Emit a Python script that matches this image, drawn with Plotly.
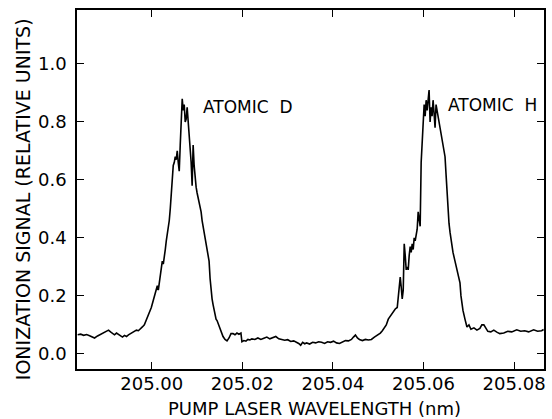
import plotly.graph_objects as go

wavelength_nm = [
    204.98365, 204.98431, 204.98497, 204.98563, 204.98628, 204.98694, 204.98738, 204.98804,
    204.98870, 204.98936, 204.99002, 204.99046, 204.99090, 204.99134, 204.99178, 204.99222,
    204.99266, 204.99310, 204.99354, 204.99398, 204.99442, 204.99486, 204.99530, 204.99574,
    204.99618, 204.99662, 204.99705, 204.99749, 204.99793, 204.99837, 204.99881, 204.99925,
    204.99969, 204.99991, 205.00035, 205.00079, 205.00101, 205.00123, 205.00145, 205.00167,
    205.00189, 205.00211, 205.00233, 205.00255, 205.00277, 205.00299, 205.00321, 205.00343,
    205.00365, 205.00387, 205.00409, 205.00431, 205.00453, 205.00475, 205.00497, 205.00519,
    205.00541, 205.00563, 205.00585, 205.00607, 205.00629, 205.00651, 205.00673, 205.00695,
    205.00717, 205.00739, 205.00760, 205.00782, 205.00804, 205.00826, 205.00848, 205.00870,
    205.00892, 205.00914, 205.00936, 205.00958, 205.00980, 205.01002, 205.01024, 205.01046,
    205.01068, 205.01090, 205.01112, 205.01134, 205.01156, 205.01178, 205.01200, 205.01222,
    205.01244, 205.01266, 205.01288, 205.01310, 205.01332, 205.01354, 205.01376, 205.01420,
    205.01442, 205.01486, 205.01530, 205.01574, 205.01618, 205.01662, 205.01706, 205.01750,
    205.01794, 205.01837, 205.01881, 205.01925, 205.01969, 205.01991, 205.02035, 205.02079,
    205.02123, 205.02167, 205.02211, 205.02277, 205.02343, 205.02409, 205.02475, 205.02541,
    205.02607, 205.02673, 205.02739, 205.02805, 205.02871, 205.02936, 205.03002, 205.03068,
    205.03134, 205.03200, 205.03244, 205.03288, 205.03332, 205.03376, 205.03420, 205.03486,
    205.03552, 205.03618, 205.03684, 205.03750, 205.03816, 205.03882, 205.03948, 205.04014,
    205.04079, 205.04145, 205.04211, 205.04277, 205.04343, 205.04409, 205.04453, 205.04497,
    205.04541, 205.04585, 205.04651, 205.04717, 205.04783, 205.04849, 205.04915, 205.04981,
    205.05047, 205.05091, 205.05134, 205.05178, 205.05222, 205.05266, 205.05288, 205.05332,
    205.05376, 205.05420, 205.05442, 205.05464, 205.05486, 205.05508, 205.05530, 205.05552,
    205.05574, 205.05596, 205.05618, 205.05640, 205.05662, 205.05684, 205.05706, 205.05728,
    205.05750, 205.05772, 205.05794, 205.05816, 205.05838, 205.05860, 205.05882, 205.05904,
    205.05926, 205.05948, 205.05970, 205.05992, 205.06014, 205.06036, 205.06058, 205.06080,
    205.06102, 205.06123, 205.06145, 205.06167, 205.06189, 205.06211, 205.06233, 205.06255,
    205.06277, 205.06299, 205.06321, 205.06343, 205.06365, 205.06387, 205.06431, 205.06475,
    205.06497, 205.06519, 205.06541, 205.06563, 205.06585, 205.06607, 205.06651, 205.06695,
    205.06739, 205.06783, 205.06805, 205.06827, 205.06849, 205.06871, 205.06915, 205.06959,
    205.07003, 205.07047, 205.07113, 205.07179, 205.07244, 205.07288, 205.07332, 205.07376,
    205.07420, 205.07486, 205.07552, 205.07618, 205.07684, 205.07772, 205.07860, 205.07948,
    205.08058, 205.08146, 205.08233, 205.08321, 205.08431, 205.08519, 205.08607, 205.08651,
]

ionization_signal = [
    0.066, 0.068, 0.064, 0.067, 0.063, 0.058, 0.055, 0.062,
    0.068, 0.072, 0.078, 0.082, 0.076, 0.070, 0.066, 0.072,
    0.068, 0.062, 0.058, 0.064, 0.060, 0.066, 0.070, 0.074,
    0.078, 0.082, 0.080, 0.088, 0.093, 0.100, 0.117, 0.130,
    0.150, 0.160, 0.185, 0.210, 0.225, 0.235, 0.220, 0.250,
    0.270, 0.300, 0.320, 0.310, 0.330, 0.360, 0.390, 0.410,
    0.440, 0.460, 0.500, 0.560, 0.630, 0.650, 0.660, 0.680,
    0.670, 0.700, 0.660, 0.630, 0.720, 0.790, 0.880, 0.840,
    0.860, 0.800, 0.810, 0.850, 0.800, 0.770, 0.720, 0.660,
    0.580, 0.720, 0.650, 0.600, 0.575, 0.555, 0.540, 0.520,
    0.500, 0.490, 0.460, 0.440, 0.420, 0.400, 0.370, 0.350,
    0.330, 0.320, 0.260, 0.210, 0.190, 0.170, 0.150, 0.120,
    0.115, 0.095, 0.075, 0.060, 0.050, 0.045, 0.055, 0.070,
    0.070, 0.066, 0.072, 0.068, 0.072, 0.042, 0.046, 0.044,
    0.050, 0.048, 0.052, 0.050, 0.055, 0.050, 0.054, 0.058,
    0.052, 0.056, 0.060, 0.052, 0.050, 0.047, 0.049, 0.043,
    0.045, 0.040, 0.036, 0.030, 0.040, 0.035, 0.038, 0.034,
    0.040, 0.038, 0.042, 0.040, 0.036, 0.042, 0.040, 0.044,
    0.038, 0.036, 0.040, 0.046, 0.045, 0.050, 0.058, 0.065,
    0.055, 0.050, 0.046, 0.050, 0.048, 0.050, 0.058, 0.065,
    0.072, 0.080, 0.090, 0.100, 0.120, 0.130, 0.135, 0.145,
    0.155, 0.160, 0.200, 0.240, 0.265, 0.230, 0.190, 0.220,
    0.380, 0.340, 0.290, 0.300, 0.290, 0.340, 0.370, 0.350,
    0.380, 0.360, 0.400, 0.390, 0.420, 0.430, 0.490, 0.470,
    0.440, 0.660, 0.740, 0.830, 0.860, 0.820, 0.875, 0.840,
    0.880, 0.910, 0.800, 0.850, 0.820, 0.875, 0.830, 0.780,
    0.860, 0.840, 0.820, 0.800, 0.770, 0.750, 0.720, 0.680,
    0.620, 0.550, 0.490, 0.450, 0.420, 0.390, 0.350, 0.320,
    0.290, 0.260, 0.245, 0.200, 0.170, 0.150, 0.120, 0.093,
    0.100, 0.085, 0.090, 0.082, 0.088, 0.100, 0.100, 0.090,
    0.078, 0.076, 0.082, 0.075, 0.070, 0.072, 0.078, 0.076,
    0.083, 0.078, 0.080, 0.076, 0.083, 0.078, 0.080, 0.084,
]

x_tick_values = [205.00, 205.02, 205.04, 205.06, 205.08]
x_tick_labels = ["205.00", "205.02", "205.04", "205.06", "205.08"]
y_tick_values = [0.0, 0.2, 0.4, 0.6, 0.8, 1.0]
y_tick_labels = ["0.0", "0.2", "0.4", "0.6", "0.8", "1.0"]

peak_labels = ["ATOMIC  D", "ATOMIC  H"]
peak_label_x = [205.0109, 205.06497]
peak_label_y = [0.852, 0.859]

FONT = "DejaVu Sans"

fig = go.Figure()
fig.add_trace(go.Scatter(
    x=wavelength_nm, y=ionization_signal, mode="lines",
    line=dict(color="black", width=1.6), showlegend=False,
))

for txt, lx, ly in zip(peak_labels, peak_label_x, peak_label_y):
    fig.add_annotation(x=lx, y=ly, text=txt, showarrow=False, xanchor="left",
                       yanchor="middle", font=dict(family=FONT, size=17, color="black"))

fig.add_annotation(xref="paper", yref="paper", x=-0.117, y=0.474,
                   text="IONIZATION SIGNAL (RELATIVE UNITS)", textangle=-90,
                   showarrow=False, xanchor="center", yanchor="middle",
                   font=dict(family=FONT, size=19, color="black"))
fig.add_annotation(xref="paper", yref="paper", x=0.508, y=-0.110,
                   text="PUMP LASER WAVELENGTH (nm)", showarrow=False,
                   xanchor="center", yanchor="middle",
                   font=dict(family=FONT, size=18, color="black"))

axis_common = dict(
    showgrid=False, zeroline=False, showline=True, linecolor="black", linewidth=1.5,
    mirror="ticks", ticks="inside", ticklen=7, tickwidth=1.2, tickcolor="black",
    tickfont=dict(family=FONT, size=18, color="black"),
)
fig.update_xaxes(range=[204.9835, 205.0866], tickvals=x_tick_values,
                 ticktext=x_tick_labels, ticklabelstandoff=-2, **axis_common)
fig.update_yaxes(range=[-0.052, 1.186], tickvals=y_tick_values,
                 ticktext=y_tick_labels, ticklabelstandoff=5, **axis_common)

fig.update_layout(
    width=552, height=419,
    margin=dict(l=77, r=6, t=10, b=50),
    plot_bgcolor="white", paper_bgcolor="white",
)

fig.write_html("out.html")
